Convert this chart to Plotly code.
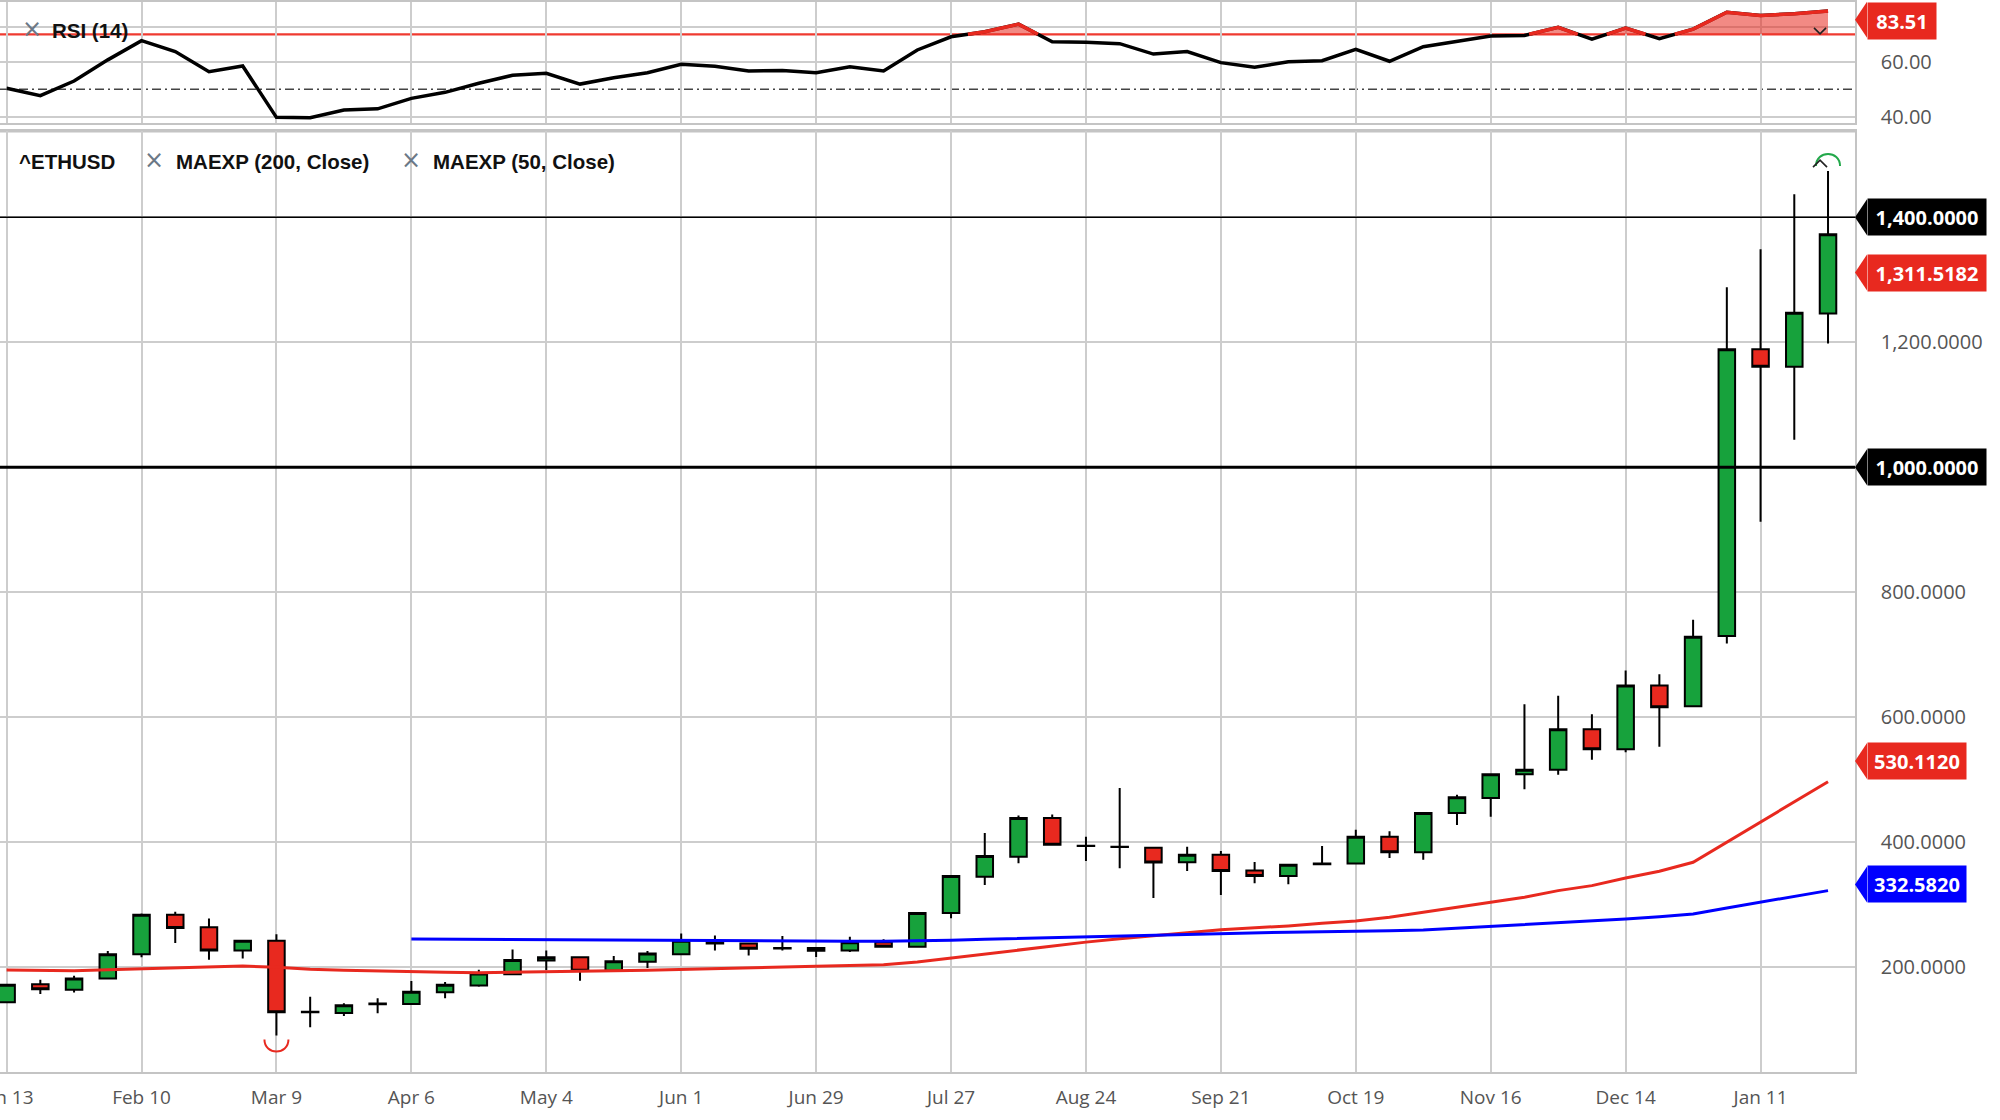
import pandas as pd
import plotly.graph_objects as go

# ---------------- data ----------------
week_start = "2020-01-13"
n_weeks = 55
dates = pd.date_range(week_start, periods=n_weeks, freq="7D")

open_ = [144, 173, 164, 182, 221, 284, 264, 227, 242.5, 128,
         127, 141, 141.5, 160, 171, 189, 211, 216, 194.7, 209,
         221, 242, 238, 230, 231, 227, 240, 233, 287, 345,
         377, 439, 394, 392.6, 391.5, 368, 380, 355, 346, 365,
         366, 409, 384, 447, 471, 509, 516, 581, 549, 651,
         617.6, 730, 1189, 1161, 1246]
high = [173, 180, 186.7, 226, 286, 289, 278, 243, 253, 153,
        142.6, 150.5, 178, 176.6, 196, 228.7, 227, 217, 218, 226,
        254, 251, 239, 250, 232, 248.8, 245, 288, 347, 415,
        443, 444.6, 409, 487, 392, 393, 386, 368.7, 364.5, 394,
        420, 417.6, 447.5, 476, 510, 621, 634.7, 605, 675, 669,
        756, 1288, 1349, 1437, 1474]
low = [143, 157.5, 159.6, 181, 216, 239, 212, 214, 91, 104,
       122.3, 126.6, 141, 150.5, 169, 188, 195.7, 178.7, 194, 199,
       220, 227, 219, 227, 216.5, 224.4, 232, 232, 278.5, 331.6,
       366.6, 395, 370, 358.6, 311, 354, 315.6, 334.7, 333, 364,
       365, 375, 372, 427.7, 441, 485, 508, 532, 544, 553,
       616, 718, 913, 1044, 1198]
close = [172, 165, 182, 221, 284, 263, 227, 242.5, 128, 129,
         139.4, 142, 161, 172, 190, 211.7, 216, 194.7, 209.6, 222,
         242.5, 238, 229.7, 231, 226.5, 240, 233, 287, 346, 378,
         439, 396, 394.5, 393, 367.6, 380, 354, 346, 364, 366,
         409, 384, 447, 472, 509, 516, 581, 549, 651, 616,
         729, 1189, 1161, 1247.5, 1373]

# MAEXP (50, Close) - red, whole span
ema50 = [195.7, 195.2, 194.7, 196.3, 197.9, 199.5, 201.0, 202.0, 200.0, 196.8,
         195.4, 194.0, 192.5, 192.0, 191.5, 192.0, 192.5, 193.6, 194.7, 195.5,
         196.5, 198.0, 199.5, 200.5, 201.6, 203.0, 204.2, 208.5, 214.9, 221.8,
         228.1, 234.0, 240.3, 245.6, 250.9, 255.2, 260.0, 263.1, 266.3, 270.5,
         274.0, 280.0, 288.0, 296.0, 304.0, 312.0, 322.7, 330.7, 343.0, 353.6,
         368.0, 400.0, 432.0, 464.0, 497.0]
# MAEXP (200, Close) - blue, starts Apr 6
ema200_start = "2020-04-06"
ema200 = [245.3, 245.0, 244.8, 244.3, 243.7, 243.4, 243.2, 242.7,
          242.1, 241.8, 241.6, 241.5, 241.5, 241.6, 241.9, 242.4, 243.5, 244.8,
          246.2, 247.5, 248.8, 250.2, 251.5, 252.8, 254.1, 255.2, 256.2, 257.0,
          257.5, 258.5, 259.7, 262.5, 265.5, 268.5, 272.0, 274.5, 277.3, 281.0,
          285.3, 295.0, 304.0, 313.0, 322.7]

# RSI (14)
rsi = [50.4, 47.7, 53.0, 60.7, 67.7, 63.7, 56.4, 58.5, 39.8, 39.7,
       42.5, 42.9, 46.7, 48.9, 52.2, 55.1, 55.8, 51.9, 54.2, 56.0,
       59.1, 58.4, 56.7, 56.8, 56.0, 58.2, 56.7, 64.3, 69.1, 70.9,
       73.7, 67.3, 67.1, 66.6, 62.8, 63.7, 59.7, 58.0, 60.0, 60.4,
       64.5, 60.2, 65.5, 67.5, 69.4, 69.6, 72.5, 68.2, 72.3, 68.4,
       71.9, 78.0, 76.8, 77.5, 78.5]
rsi_overbought = 70
rsi_mid = 50
rsi_ticks = [40, 60]
rsi_extra_grid = [72.8]

price_ticks = [200, 400, 600, 800, 1000, 1200, 1400]
levels = [1400, 1000]

last_price_tag = 1311.5182
ema50_tag = 530.1120
ema200_tag = 332.5820
rsi_tag = 83.51

tick_every_weeks = 4

# ---------------- styles / geometry ----------------
W, H = 2000, 1120
ML, MR, MT, MB = 0, 145, 0, 48
PW, PH = W - ML - MR, H - MT - MB

def px(x):
    return x / PW

def py(y):
    return (PH - y) / PH

GREEN = "#17a23c"
RED = "#e8291f"
BLUE = "#0000ff"
GRID = "#cdcdcd"
AXIS = "#c4c4c4"
TICKC = "#555555"
XGRAY = "#6b7886"
level_width = {1400: 1.5, 1000: 3}

rsi_dom = [py(123.3), py(1.7)]
main_dom = [0, py(131)]

fig = go.Figure()

# moving averages (under candles)
fig.add_trace(go.Scatter(x=dates, y=ema50, mode="lines",
                         line=dict(color=RED, width=3), xaxis="x", yaxis="y",
                         hoverinfo="skip"))
d200 = dates[dates >= pd.Timestamp(ema200_start)]
fig.add_trace(go.Scatter(x=d200, y=ema200, mode="lines",
                         line=dict(color=BLUE, width=3), xaxis="x", yaxis="y",
                         hoverinfo="skip"))

fig.add_trace(go.Candlestick(
    x=dates, open=open_, high=high, low=low, close=close,
    increasing=dict(fillcolor=GREEN, line=dict(color="black", width=2)),
    decreasing=dict(fillcolor=RED, line=dict(color="black", width=2)),
    whiskerwidth=0, xaxis="x", yaxis="y", hoverinfo="skip"))

# ---------------- RSI ----------------
xs, ys = [], []
for i in range(len(rsi)):
    if i > 0:
        a, b = rsi[i - 1], rsi[i]
        if (a - rsi_overbought) * (b - rsi_overbought) < 0:
            t = (rsi_overbought - a) / (b - a)
            xs.append(dates[i - 1] + (dates[i] - dates[i - 1]) * t)
            ys.append(rsi_overbought)
    xs.append(dates[i])
    ys.append(rsi[i])

fig.add_trace(go.Scatter(x=dates, y=rsi, mode="lines",
                         line=dict(color="black", width=3.5),
                         xaxis="x2", yaxis="y2", hoverinfo="skip"))
fig.add_trace(go.Scatter(x=xs, y=[rsi_overbought] * len(xs), mode="lines",
                         line=dict(width=0), xaxis="x2", yaxis="y2",
                         hoverinfo="skip"))
fig.add_trace(go.Scatter(x=xs, y=[max(v, rsi_overbought) for v in ys],
                         mode="lines", line=dict(width=0), fill="tonexty",
                         fillcolor="rgba(232,41,31,0.55)",
                         xaxis="x2", yaxis="y2", hoverinfo="skip"))
fig.add_trace(go.Scatter(x=xs, y=[v if v >= rsi_overbought else None for v in ys],
                         mode="lines", line=dict(color=RED, width=3.5),
                         connectgaps=False, xaxis="x2", yaxis="y2",
                         hoverinfo="skip"))

# ---------------- axes ----------------
day = pd.Timedelta(days=1)
xrange = [dates[0] - 1.37 * day, dates[0] + 383.6 * day]
xticks = list(dates[::tick_every_weeks])

# tick labels hidden under the level tags
price_ticktext = ["" if v in levels else f"{v:,.4f}" for v in price_ticks]

fig.update_layout(
    width=W, height=H,
    margin=dict(l=ML, r=MR, t=MT, b=MB, autoexpand=False),
    paper_bgcolor="white", plot_bgcolor="white",
    showlegend=False, boxgap=0.3,
    xaxis=dict(domain=[0, 1], anchor="y", type="date", range=xrange,
               tickvals=xticks, tickformat="%b %-d",
               ticklabeloverflow="allow", automargin=False,
               showgrid=True, gridcolor=GRID, gridwidth=1.5,
               showline=True, mirror=True, linecolor=AXIS, linewidth=1.5,
               ticks="", ticklabelstandoff=7,
               tickfont=dict(family="Open Sans", size=19, color=TICKC),
               rangeslider=dict(visible=False), zeroline=False),
    yaxis=dict(domain=main_dom, anchor="x", side="right",
               range=[32.5, 1538.1], tickvals=price_ticks,
               ticktext=price_ticktext, automargin=False,
               showgrid=True, gridcolor=GRID,
               gridwidth=1.5, showline=True, linecolor=AXIS, linewidth=1.5,
               ticks="", ticklabelstandoff=20, zeroline=False,
               tickfont=dict(family="Open Sans", size=20, color=TICKC)),
    xaxis2=dict(domain=[0, 1], anchor="y2", matches="x", type="date",
                tickvals=xticks, showticklabels=False, automargin=False,
                showgrid=True, gridcolor=GRID, gridwidth=1.5,
                showline=True, mirror=True, linecolor=AXIS, linewidth=1.5,
                ticks="", zeroline=False),
    yaxis2=dict(domain=rsi_dom, anchor="x2", side="right",
                range=[37.64, 81.85], automargin=False,
                tickvals=rsi_ticks + rsi_extra_grid,
                ticktext=[f"{v:.2f}" for v in rsi_ticks] + [""] * len(rsi_extra_grid),
                showgrid=True, gridcolor=GRID, gridwidth=1.5,
                showline=True, linecolor=AXIS, linewidth=1.5,
                ticks="", ticklabelstandoff=20, zeroline=False,
                tickfont=dict(family="Open Sans", size=20, color=TICKC)),
)

shapes = []
# separator between panels
shapes.append(dict(type="line", xref="paper", yref="y domain", x0=0, x1=1,
                   y0=1, y1=1, line=dict(color=AXIS, width=3), layer="below"))
# RSI reference lines
shapes.append(dict(type="line", xref="x2 domain", yref="y2", x0=0, x1=1,
                   y0=rsi_overbought, y1=rsi_overbought,
                   line=dict(color="#ef3a30", width=2.2), layer="below"))
shapes.append(dict(type="line", xref="x2 domain", yref="y2", x0=0, x1=1,
                   y0=rsi_mid, y1=rsi_mid,
                   line=dict(color="#444444", width=1.6, dash="9px,4px,2px,4px"),
                   layer="below"))
# horizontal levels
for lv in levels:
    shapes.append(dict(type="line", xref="x domain", yref="y", x0=0, x1=1,
                       y0=lv, y1=lv, line=dict(color="black", width=level_width[lv])))

# extreme markers
imax = max(range(len(high)), key=lambda i: high[i])
imin = min(range(len(low)), key=lambda i: low[i])
shapes.append(dict(type="path", xref="x", yref="y", xsizemode="pixel",
                   ysizemode="pixel", xanchor=dates[imax], yanchor=high[imax],
                   path="M -12,5 C -12,21 12,21 12,5",
                   line=dict(color="#22a84a", width=2)))
shapes.append(dict(type="path", xref="x", yref="y", xsizemode="pixel",
                   ysizemode="pixel", xanchor=dates[imax], yanchor=high[imax],
                   path="M -15,4 L -8,11 L -1,4",
                   line=dict(color="#222222", width=1.6)))
shapes.append(dict(type="path", xref="x", yref="y", xsizemode="pixel",
                   ysizemode="pixel", xanchor=dates[imin], yanchor=low[imin],
                   path="M -12,-4 C -12,-20 12,-20 12,-4",
                   line=dict(color=RED, width=2)))
shapes.append(dict(type="path", xref="x2", yref="y2", xsizemode="pixel",
                   ysizemode="pixel", xanchor=dates[-1], yanchor=rsi[-1],
                   path="M -14,-17 L -8,-23 L -2,-17",
                   line=dict(color="#222222", width=1.6)))

annotations = []

def tag(yref, yval, text, color, top=False):
    w = 10 * len(text) + 18
    if top:
        shapes.append(dict(type="path", xref="paper", yref=yref,
                           xsizemode="pixel", ysizemode="pixel",
                           xanchor=1, yanchor=yval,
                           path="M 0,-18 L 12,0 L 12,-36 Z",
                           fillcolor=color, line=dict(width=0)))
    else:
        shapes.append(dict(type="path", xref="paper", yref=yref,
                           xsizemode="pixel", ysizemode="pixel",
                           xanchor=1, yanchor=yval,
                           path="M 0,0 L 12,18 L 12,-18 Z",
                           fillcolor=color, line=dict(width=0)))
    annotations.append(dict(xref="paper", yref=yref, x=1, y=yval,
                            xanchor="left", yanchor="top" if top else "middle",
                            xshift=12, text=text, showarrow=False,
                            width=w, height=36, bgcolor=color, borderpad=0,
                            align="center", valign="middle",
                            font=dict(family="Open Sans", size=20,
                                      color="white", weight="bold")))

for lv in levels:
    tag("y", lv, f"{lv:,.4f}", "black")
tag("y", last_price_tag, f"{last_price_tag:,.4f}", RED)
tag("y", ema50_tag, f"{ema50_tag:,.4f}", RED)
tag("y", ema200_tag, f"{ema200_tag:,.4f}", BLUE)
tag("y2 domain", 1, f"{rsi_tag:.2f}", RED, top=True)

LEG = dict(family="Liberation Sans", size=20.5, color="#111111", weight="bold")
XF = dict(family="DejaVu Sans", size=24, color=XGRAY)

def label(xp, yp, text, font):
    annotations.append(dict(xref="paper", yref="paper", x=px(xp), y=py(yp),
                            xanchor="left", yanchor="middle", text=text,
                            showarrow=False, borderpad=0, font=font))

label(21, 29, "×", XF)
label(51, 30, "RSI (14)", LEG)
label(18, 161, "^ETHUSD", LEG)
label(143, 160, "×", XF)
label(175, 161, "MAEXP (200, Close)", LEG)
label(400, 160, "×", XF)
label(432, 161, "MAEXP (50, Close)", LEG)

fig.update_layout(shapes=shapes, annotations=annotations)

fig.write_html("out.html", config={"displayModeBar": False},
               post_script="document.body.style.margin='0';document.body.style.overflow='hidden';")
